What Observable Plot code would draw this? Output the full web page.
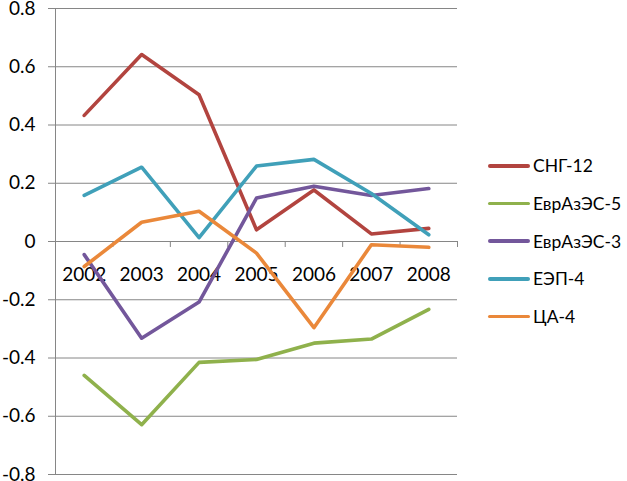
<!DOCTYPE html>
<html>
<head>
<meta charset="utf-8">
<script src="https://cdn.jsdelivr.net/npm/d3@7"></script>
<script src="https://cdn.jsdelivr.net/npm/@observablehq/plot@0.6"></script>
<style>
  html, body { margin: 0; padding: 0; background: #fff; }
  #wrap { position: relative; width: 627px; height: 481px; font-family: Lato, "Open Sans", sans-serif; }
  #legend { position: absolute; left: 488px; top: 147px; }
  .item { display: flex; align-items: center; height: 37.7px; font-size: 17.5px; color: #000; white-space: nowrap; }
  .swatch { width: 42px; height: 3.8px; border-radius: 2px; margin-right: 3px; }
</style>
</head>
<body>
<div id="wrap"><div id="legend"></div></div>
<script>
const years = ["2002", "2003", "2004", "2005", "2006", "2007", "2008"];
const seriesNames = ["СНГ-12", "ЕврАзЭС-5", "ЕврАзЭС-3", "ЕЭП-4", "ЦА-4"];
const seriesColors = ["#B2443F", "#8FB14C", "#73579B", "#40A0B9", "#EA883A"];
const sng12 = [0.433, 0.642, 0.504, 0.040, 0.177, 0.026, 0.045];
const evrazes5 = [-0.460, -0.629, -0.415, -0.405, -0.349, -0.335, -0.233];
const evrazes3 = [-0.045, -0.332, -0.208, 0.149, 0.190, 0.158, 0.182];
const eep4 = [0.158, 0.255, 0.013, 0.259, 0.282, 0.165, 0.023];
const ca4 = [-0.086, 0.066, 0.104, -0.040, -0.296, -0.011, -0.020];
const yTicks = [-0.8, -0.6, -0.4, -0.2, 0, 0.2, 0.4, 0.6, 0.8];

const allSeries = [sng12, evrazes5, evrazes3, eep4, ca4];
const rows = [];
allSeries.forEach((vals, s) => vals.forEach((v, i) => rows.push({series: seriesNames[s], i: i + 0.5, year: years[i], value: v})));
const bounds = d3.range(years.length + 1);
const tickLen = 0.0206;
const fmt = d => d === 0 ? "0" : String(+d.toFixed(1));

const chart = Plot.plot({
  width: 470,
  height: 481,
  marginLeft: 55,
  marginRight: 13,
  marginTop: 8,
  marginBottom: 7,
  style: {fontFamily: "Lato, 'Open Sans', sans-serif", fontSize: "19px", color: "#000", background: "#fff"},
  x: {domain: [0, years.length], axis: null},
  y: {domain: [-0.8, 0.8], axis: null},
  color: {domain: seriesNames, range: seriesColors},
  marks: [
    Plot.ruleY(yTicks, {stroke: "#868686", strokeWidth: 1}),
    Plot.axisY(yTicks, {tickSize: 7, tickPadding: 13, tickFormat: fmt, stroke: "#868686", fill: "#000", fontSize: 19, label: null}),
    Plot.ruleX([0], {stroke: "#868686", strokeWidth: 1}),
    Plot.ruleX(bounds, {x: d => d, y1: 0, y2: -tickLen, stroke: "#868686", strokeWidth: 1}),
    Plot.text(years, {x: (d, i) => i + 0.5, y: 0, text: d => d, dy: 33, fill: "#000", fontSize: 19}),
    Plot.line(rows, {x: "i", y: "value", z: "series", stroke: "series", strokeWidth: 3.6, strokeLinejoin: "round", strokeLinecap: "round"})
  ]
});
document.getElementById("wrap").prepend(chart);

const legend = document.getElementById("legend");
seriesNames.forEach((name, k) => {
  const item = document.createElement("div");
  item.className = "item";
  item.innerHTML = `<div class="swatch" style="background:${seriesColors[k]}"></div><span>${name}</span>`;
  legend.appendChild(item);
});
</script>
</body>
</html>
